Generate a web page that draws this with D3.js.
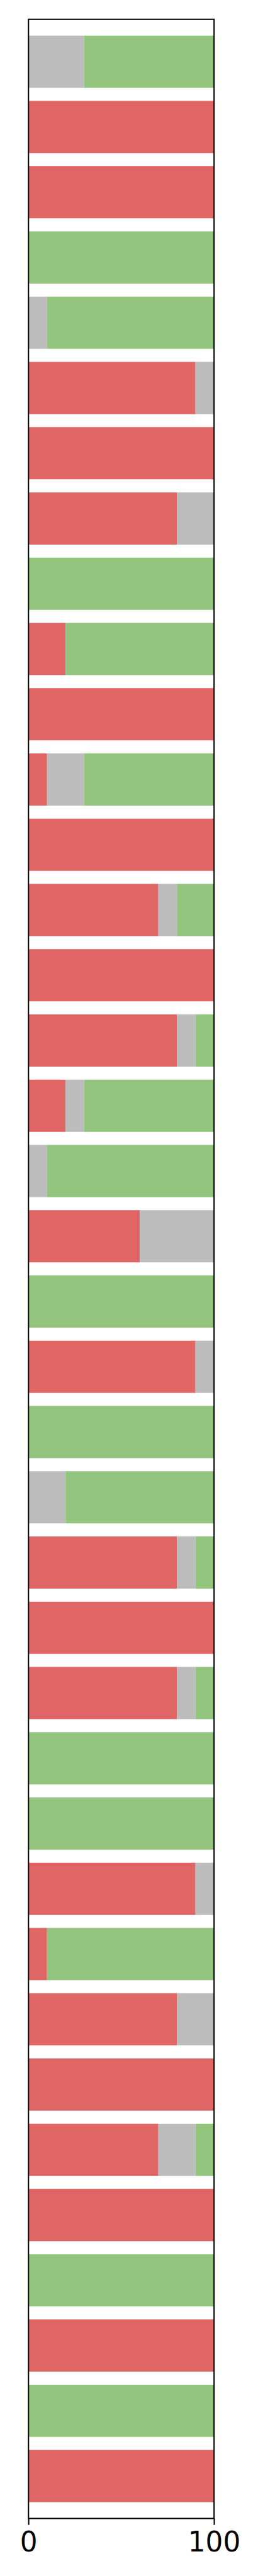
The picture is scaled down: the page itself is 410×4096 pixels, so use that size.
<!DOCTYPE html>
<html>
<head>
<meta charset="utf-8">
<script src="https://cdn.jsdelivr.net/npm/d3@7"></script>
<style>
  html, body { margin: 0; padding: 0; background: #fff; }
  svg { display: block; }
</style>
</head>
<body>
<div id="chart"></div>
<script>
// ---- data (top to bottom) ----
const categories = d3.range(38).map(i => "row " + (i + 1));
const negative = [0,100,100,0,0,90,100,80,0,20,100,10,100,70,100,80,20,0,60,0,90,0,0,80,100,80,0,0,90,10,80,100,70,100,0,100,0,100];
const neutral  = [30,0,0,0,10,10,0,20,0,0,0,20,0,10,0,10,10,10,40,0,10,0,20,10,0,10,0,0,10,0,20,0,20,0,0,0,0,0];
const positive = [70,0,0,100,90,0,0,0,100,80,0,70,0,20,0,10,70,90,0,100,0,100,80,10,0,10,100,100,0,90,0,0,10,0,100,0,100,0];
const seriesKeys = ["negative", "neutral", "positive"];
const seriesColors = ["#e06666", "#bcbcbc", "#93c47d"];
const xTicks = [0, 100];

(function () {
  // ---- layout (reference coordinates, 600 x 6000) ----
  const W = 600, H = 6000;
  const mLeft = 66, mRight = 498, mTop = 45, mBottom = 5866;

  const svg = d3.select("#chart").append("svg")
    .attr("width", 410).attr("height", 4096)
    .attr("viewBox", `0 0 ${W} ${H}`);

  const rows = categories.map((c, i) => ({
    cat: c, negative: negative[i], neutral: neutral[i], positive: positive[i]
  }));

  const x = d3.scaleLinear().domain([0, 100]).range([mLeft, mRight]);
  const n = categories.length;
  const yLin = d3.scaleLinear().domain([-0.65, n - 1 + 0.65]).range([mTop, mBottom]);
  const barH = 0.8;

  const stack = d3.stack().keys(seriesKeys)(rows);
  const color = d3.scaleOrdinal().domain(seriesKeys).range(seriesColors);

  svg.append("g").selectAll("g")
    .data(stack).join("g")
    .attr("fill", d => color(d.key))
    .selectAll("rect")
    .data(d => d.map((v, i) => ({v, i})))
    .join("rect")
    .attr("x", d => x(d.v[0]))
    .attr("width", d => x(d.v[1]) - x(d.v[0]))
    .attr("y", d => yLin(d.i - barH / 2))
    .attr("height", d => yLin(d.i + barH / 2) - yLin(d.i - barH / 2));

  // frame
  svg.append("rect")
    .attr("x", mLeft).attr("y", mTop)
    .attr("width", mRight - mLeft).attr("height", mBottom - mTop)
    .attr("fill", "none").attr("stroke", "#000").attr("stroke-width", 3);

  // x axis
  const xAxis = d3.axisBottom(x).tickValues(xTicks).tickSize(15).tickPadding(16).tickFormat(d3.format("d"));
  const gx = svg.append("g").attr("transform", `translate(0,${mBottom})`).call(xAxis);
  gx.select(".domain").remove();
  gx.selectAll(".tick line").attr("stroke", "#000").attr("stroke-width", 3);
  gx.selectAll(".tick text")
    .attr("fill", "#000")
    .style("font-family", "'DejaVu Sans', sans-serif")
    .style("font-size", "64px");
})();
</script>
</body>
</html>
